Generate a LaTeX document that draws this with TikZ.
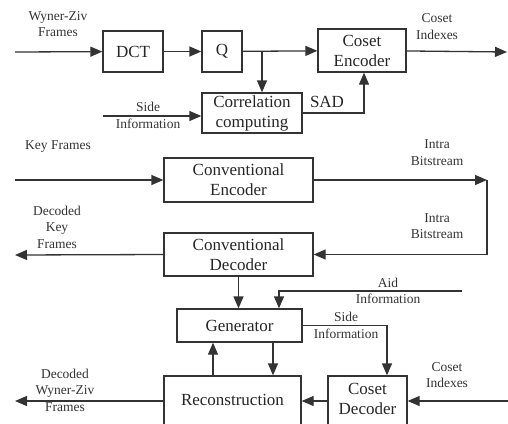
\documentclass[tikz,border=0pt]{standalone}
\usepackage{fontspec}
\setmainfont{Liberation Serif}
\newfontfamily\tms{Liberation Serif}
\usetikzlibrary{arrows.meta,calc}
\begin{document}
\begin{tikzpicture}[x=1pt,y=-1pt,
  line width=1.3pt, draw=black!80,
  box/.style={draw=black!80,line width=1.3pt,rectangle,inner sep=0pt,align=center,
     font=\tms\fontsize{17}{20}\selectfont,text=black!85},
  lbl/.style={inner sep=0pt,align=center,font=\tms\fontsize{13.5}{16.5}\selectfont,text=black!80},
  arr/.style={draw=black!80,line width=1.3pt,-{Triangle[length=12pt,width=10pt]}},
  ln/.style={draw=black!80,line width=1.3pt}]
\useasboundingbox (0,0) rectangle (508,423);
\clip (0,0) rectangle (508,423);
% boxes
\node[box,minimum width=60pt,minimum height=41pt] (DCT) at (133,51.5) {DCT};
\node[box,minimum width=40pt,minimum height=41pt] (Q) at (222,51.5) {Q};
\node[box,minimum width=88pt,minimum height=43pt] (CE) at (362,50.5) {Coset\\Encoder};
\node[box,minimum width=100pt,minimum height=40pt] (Corr) at (252,113) {Correlation\\computing};
\node[box,minimum width=149pt,minimum height=44pt] (ConvEnc) at (238.5,180) {Conventional\\Encoder};
\node[box,minimum width=149pt,minimum height=43pt] (ConvDec) at (238.5,254.5) {Conventional\\Decoder};
\node[box,minimum width=125pt,minimum height=33pt] (Gen) at (239.5,325.5) {Generator};
\node[box,minimum width=137pt,minimum height=64pt] (Recon) at (232.5,408) {};
\node[box,draw=none] (ReconT) at (232.5,400) {Reconstruction};
\node[box,minimum width=79pt,minimum height=64pt] (CD) at (367.5,408) {};
\node[box,draw=none] (CDT) at (367.5,399) {Coset\\Decoder};
% free ends
\coordinate (wzin) at (15,52);
\coordinate (br) at (262,51.5);
\coordinate (sidein) at (103,116);
\coordinate (cosout) at (507,52);
\coordinate (keyin) at (15,180);
\coordinate (ib) at (487,180);
\coordinate (keyout) at (15,255);
\coordinate (aid) at (462,291);
\coordinate (row) at (0,401);
\coordinate (cin) at (508,401);
\coordinate (wzout) at (15,401);
% connectors
\draw[arr] (wzin) -- (DCT);
\draw[arr] (DCT) -- (Q);
\draw[arr] (Q) -- (CE);
\draw[arr] (br) -- (br |- Corr.north);
\draw[arr] (sidein) -- (sidein -| Corr.west);
\draw[arr] (Corr.east) -| ([xshift=2pt]CE.south);
\draw[arr] (CE) -- (cosout);
\draw[arr] (keyin) -- (ConvEnc);
\draw[arr] (ConvEnc.east) -- (ib);
\draw[arr] (ib) |- (ConvDec.east);
\draw[arr] (ConvDec.west) -- (keyout);
\draw[arr] (ConvDec.south) -- (ConvDec.south |- Gen.north);
\draw[arr] (aid) -| ([xshift=39.5pt]Gen.north);
\draw[arr] (Gen.east) -| ([xshift=19.5pt]CD.north);
\draw[arr] ([xshift=33.5pt]Gen.south) -- ([xshift=33.5pt]Gen.south |- Recon.north);
\draw[arr] ([xshift=-19.5pt]Recon.north) -- ([xshift=-19.5pt]Recon.north |- Gen.south);
\draw[arr] (CD.west |- row) -- (Recon.east |- row);
\draw[arr] (cin) -- (CD.east |- row);
\draw[arr] (Recon.west |- row) -- (wzout);
% labels
\node[lbl] (l1) at (58,24) {Wyner-Ziv\\Frames};
\node[lbl] (l2) at (148,115.5) {Side\\Information};
\node[box,draw=none] (l3) at (327,102) {SAD};
\node[lbl] (l4) at (437,26.5) {Coset\\Indexes};
\node[lbl] (l5) at (58,147) {Key Frames};
\node[lbl] (l6) at (437,152.5) {Intra\\Bitstream};
\node[lbl] (l7) at (437,226) {Intra\\Bitstream};
\node[lbl] (l8) at (57,227) {Decoded\\Key\\Frames};
\node[lbl] (l9) at (388,291) {Aid\\Information};
\node[lbl] (l10) at (346,325.5) {Side\\Information};
\node[lbl] (l11) at (447,375) {Coset\\Indexes};
\node[lbl] (l12) at (65,390) {Decoded\\Wyner-Ziv\\Frames};
\end{tikzpicture}
\end{document}
